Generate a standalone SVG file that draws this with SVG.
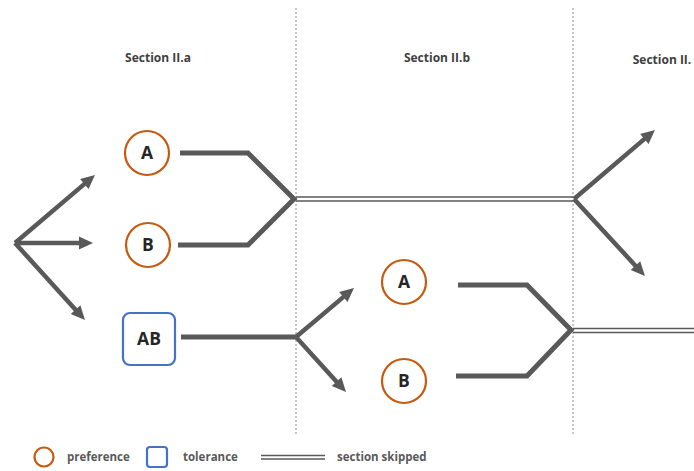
<svg xmlns="http://www.w3.org/2000/svg" width="694" height="471" viewBox="0 0 694 471">
<defs>
<marker id="ah" markerUnits="userSpaceOnUse" markerWidth="15" markerHeight="15" refX="3" refY="7" orient="auto" overflow="visible">
<path d="M0,0.5 L14,7 L0,13.5 Z" fill="#595959"/>
</marker>
</defs>
<style>
.lbl{font-family:"Open Sans","Liberation Sans",sans-serif;font-weight:bold;fill:#404040;}
.sec{font-size:12px;text-anchor:middle;}
.node{font-size:17.5px;text-anchor:middle;fill:#262626;}
.leg{font-size:11.5px;fill:#595959;}
.pref{fill:#fff;stroke:#C55A11;stroke-width:2.2;}
.tol{fill:#fff;stroke:#4472C4;stroke-width:2.2;}
.thick{fill:none;stroke:#595959;stroke-width:5;stroke-linejoin:miter;}
.arr{fill:none;stroke:#595959;stroke-width:4.5;marker-end:url(#ah);}
.dbl{stroke:#595959;stroke-width:1.3;fill:none;}
.div{stroke:#8c8c8c;stroke-width:1;stroke-dasharray:2,2;}
</style>
<rect width="694" height="471" fill="#fff"/>
<g id="dividers">
<line class="div" x1="296" y1="8" x2="296" y2="436"/>
<line class="div" x1="573" y1="8" x2="573" y2="436"/>
</g>
<g id="headers">
<text class="lbl sec" x="158" y="62">Section II.a</text>
<text class="lbl sec" x="437" y="62">Section II.b</text>
<text class="lbl sec" x="662" y="64">Section II.</text>
</g>
<g id="connectors">
<path class="arr" d="M15,243 L86.6,182.1"/>
<path class="arr" d="M15,243 L82,243"/>
<path class="arr" d="M15,243 L77.6,311.9"/>
<path class="thick" d="M180,153 L248,153 L294,199 L248,245 L178,245"/>
<path class="dbl" d="M296,197 L573,197 M296,201 L573,201"/>
<path class="arr" d="M574,199 L646.6,137.1"/>
<path class="arr" d="M574,199 L637.5,267.9"/>
<path class="thick" d="M181,337 L296,337"/>
<path class="arr" d="M296,337 L345.6,295.1"/>
<path class="arr" d="M296,337 L338.6,383.9"/>
<path class="thick" d="M458,285 L527,285 L571,330 L527,376 L456,376"/>
<path class="dbl" d="M573,328.5 L694,328.5 M573,332.5 L694,332.5"/>
</g>
<g id="nodeA1">
<circle class="pref" cx="147" cy="153" r="22"/>
<text class="lbl node" x="147" y="159">A</text>
</g>
<g id="nodeB1">
<circle class="pref" cx="148" cy="245" r="22"/>
<text class="lbl node" x="148" y="251">B</text>
</g>
<g id="nodeAB">
<rect class="tol" x="123" y="313" width="52" height="52" rx="7"/>
<text class="lbl node" x="149" y="345">AB</text>
</g>
<g id="nodeA2">
<circle class="pref" cx="404" cy="282" r="22"/>
<text class="lbl node" x="404" y="288">A</text>
</g>
<g id="nodeB2">
<circle class="pref" cx="404" cy="381" r="22"/>
<text class="lbl node" x="404" y="387">B</text>
</g>
<g id="legend">
<circle class="pref" cx="44" cy="457" r="9.5"/>
<text class="lbl leg" x="67" y="461">preference</text>
<rect class="tol" x="147" y="447" width="20" height="20" rx="3"/>
<text class="lbl leg" x="183" y="461">tolerance</text>
<path class="dbl" d="M261,455.5 L325,455.5 M261,459 L325,459"/>
<text class="lbl leg" x="337" y="461">section skipped</text>
</g>
</svg>
